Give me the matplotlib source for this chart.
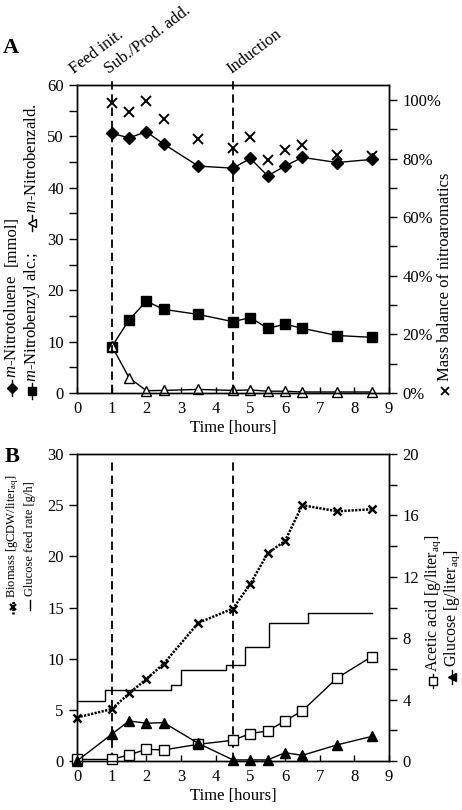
import matplotlib
matplotlib.use('Agg')
import matplotlib.pyplot as plt
from matplotlib.lines import Line2D
from matplotlib.ticker import MultipleLocator, PercentFormatter
import matplotlib.transforms as mtransforms

plt.rcParams['font.family'] = ['Liberation Serif', 'DejaVu Sans']
plt.rcParams['mathtext.fontset'] = 'custom'
plt.rcParams['mathtext.rm'] = 'Liberation Serif'
plt.rcParams['mathtext.it'] = 'Liberation Serif:italic'
plt.rcParams['font.size'] = 12
plt.rcParams['lines.scale_dashes'] = False
plt.rcParams['axes.linewidth'] = 1.0

# ---- panel A data ----
time_a = [1, 1.5, 2, 2.5, 3.5, 4.5, 5, 5.5, 6, 6.5, 7.5, 8.5]
nitrotoluene = [50.6, 49.7, 50.9, 48.5, 44.2, 43.8, 45.7, 42.3, 44.2, 45.9, 44.9, 45.5]
benzyl_alc = [9.0, 14.2, 17.9, 16.3, 15.3, 13.9, 14.7, 12.6, 13.4, 12.6, 11.2, 10.85]
benzald = [9.2, 3.0, 0.45, 0.5, 0.7, 0.5, 0.6, 0.35, 0.35, 0.2, 0.2, 0.2]
mass_balance = [0.991, 0.960, 0.997, 0.936, 0.867, 0.836, 0.873, 0.796, 0.828, 0.846, 0.812, 0.81]

# ---- panel B data ----
time_b = [0, 1, 1.5, 2, 2.5, 3.5, 4.5, 5, 5.5, 6, 6.5, 7.5, 8.5]
biomass = [4.25, 5.07, 6.6, 8.0, 9.5, 13.5, 14.9, 17.3, 20.3, 21.5, 25.0, 24.4, 24.6]
acetic = [0.1, 0.1, 0.4, 0.76, 0.72, 1.09, 1.35, 1.79, 1.96, 2.61, 3.27, 5.4, 6.8]
glucose = [0.0, 1.74, 2.61, 2.46, 2.5, 1.15, 0.07, 0.07, 0.07, 0.54, 0.37, 1.05, 1.6]
feed_t = [0, 0.8, 2.7, 3.0, 4.3, 4.85, 5.55, 6.65, 8.5]
feed_rate = [5.9, 6.9, 7.4, 8.9, 9.4, 11.1, 13.45, 14.5, 14.5]

event_t = [1, 4.5]
event_text = ['Feed init.', 'Sub./Prod. add.', 'Induction']
event_text_t = [-0.08, 0.92, 4.45]

W, H = 462, 810
fig = plt.figure(figsize=(W / 100, H / 100), dpi=100)


def fx(x):
    return x / W


def fy(y):
    return 1 - y / H


def style_axes(ax):
    ax.tick_params(axis='x', direction='in', length=4, width=1, top=False, pad=6)
    ax.tick_params(axis='y', which='both', direction='out', width=1, length=6)


def vlabel(x, y, s, size=12):
    fig.text(fx(x), fy(y), s, rotation=90, ha='center', va='bottom', fontsize=size)


def mark(x, y, marker, ls='-', mfc='k', ms=6, half=8, lw=1.0, mew=1.0):
    fig.add_artist(Line2D([fx(x), fx(x)], [fy(y + half), fy(y - half)],
                          color='k', lw=lw, ls=ls, transform=fig.transFigure))
    if marker:
        fig.add_artist(Line2D([fx(x)], [fy(y)], marker=marker, mfc=mfc, mec='k',
                              ms=ms, mew=mew, ls='none', transform=fig.transFigure))


# ================= Panel A =================
axA = fig.add_axes([fx(77), fy(393), 312 / W, 308 / H])
axA.plot(time_a, nitrotoluene, color='k', lw=1.0, marker='D', ms=6, clip_on=False)
axA.plot(time_a, benzyl_alc, color='k', lw=1.0, marker='s', ms=6.5, clip_on=False)
axA.plot(time_a, benzald, color='k', lw=1.0, marker='^', ms=6.5, mfc='white',
         mec='k', clip_on=False)
axA.set_xlim(0, 9)
axA.set_ylim(0, 60)
axA.xaxis.set_major_locator(MultipleLocator(1))
axA.yaxis.set_major_locator(MultipleLocator(10))
axA.yaxis.set_minor_locator(MultipleLocator(5))
axA.set_xlabel('Time [hours]', labelpad=2)
style_axes(axA)

for t in event_t:
    axA.axvline(t, ymin=0, ymax=1.02, color='k', lw=1.3, dashes=(6, 3.5), clip_on=False)

trans = mtransforms.blended_transform_factory(axA.transData, axA.transAxes)
for t, s in zip(event_text_t, event_text):
    axA.text(t, 1.035, s, transform=trans, rotation=37, rotation_mode='anchor',
             ha='left', va='baseline', fontsize=12)

axA2 = axA.twinx()
axA2.plot(time_a, mass_balance, ls='none', marker='x', ms=6.5, mew=1.4, color='k',
          clip_on=False)
axA2.set_ylim(0, 1.051)
axA2.yaxis.set_major_locator(MultipleLocator(0.2))
axA2.yaxis.set_minor_locator(MultipleLocator(0.1))
axA2.yaxis.set_major_formatter(PercentFormatter(1.0, decimals=0))
axA2.tick_params(axis='y', which='both', direction='out', width=1, length=6)

fig.text(fx(3), fy(53), 'A', fontsize=16, fontweight='bold', ha='left', va='baseline')

# left labels A
mark(12, 388, 'D', ms=5)
vlabel(12, 378, r'$\mathit{m}$-Nitrotoluene')
vlabel(12, 266, '[mmol]')
mark(32, 391, 's', ms=6)
vlabel(32, 382, r'$\mathit{m}$-Nitrobenzyl alc.;')
mark(32, 223, '<', mfc='white', ms=6)
vlabel(32, 213, r'$\mathit{m}$-Nitrobenzald.')
# right label A
mark(445, 391, 'x', half=0, ms=6, mew=1.3)
vlabel(445, 381, 'Mass balance of nitroaromatics')

# ================= Panel B =================
axB = fig.add_axes([fx(77), fy(761), 312 / W, 307 / H])
axB.plot(time_b, biomass, color='k', lw=1.8, dashes=(1.6, 1.0), marker='x', ms=6,
         mew=1.8, clip_on=False)
axB.step(feed_t, feed_rate, where='post', color='k', lw=1.0)
axB.set_xlim(0, 9)
axB.set_ylim(0, 30)
axB.xaxis.set_major_locator(MultipleLocator(1))
axB.yaxis.set_major_locator(MultipleLocator(5))
axB.set_xlabel('Time [hours]', labelpad=2)
style_axes(axB)

for t in event_t:
    axB.axvline(t, ymin=0, ymax=0.98, color='k', lw=1.3, dashes=(6, 3.5))

axB2 = axB.twinx()
axB2.plot(time_b, acetic, color='k', lw=1.0, marker='s', ms=6.5, mfc='white', mec='k',
          clip_on=False)
axB2.plot(time_b, glucose, color='k', lw=1.0, marker='^', ms=6.5, clip_on=False)
axB2.set_ylim(0, 20)
axB2.yaxis.set_major_locator(MultipleLocator(4))
axB2.yaxis.set_minor_locator(MultipleLocator(2))
axB2.tick_params(axis='y', which='both', direction='out', width=1, length=6)

fig.text(fx(5), fy(462), 'B', fontsize=16, fontweight='bold', ha='left', va='baseline')

# left labels B
mark(13, 607, 'x', ls=(0, (1.5, 1.0)), lw=1.8, ms=5, mew=1.6, half=7)
vlabel(13, 598, r'Biomass [gCDW/liter$_{\mathrm{aq}}$]', size=9)
mark(30, 605, None, half=5)
vlabel(30, 596, 'Glucose feed rate [g/h]', size=9)
# right labels B
mark(433, 681, 's', mfc='white', ms=5.5, half=7)
vlabel(433, 672, r'Acetic acid [g/liter$_{\mathrm{aq}}$]', size=11.5)
mark(452, 677, '<', ms=6, half=7)
vlabel(452, 667, r'Glucose [g/liter$_{\mathrm{aq}}$]', size=11.5)

fig.savefig('out.png', dpi=100)
